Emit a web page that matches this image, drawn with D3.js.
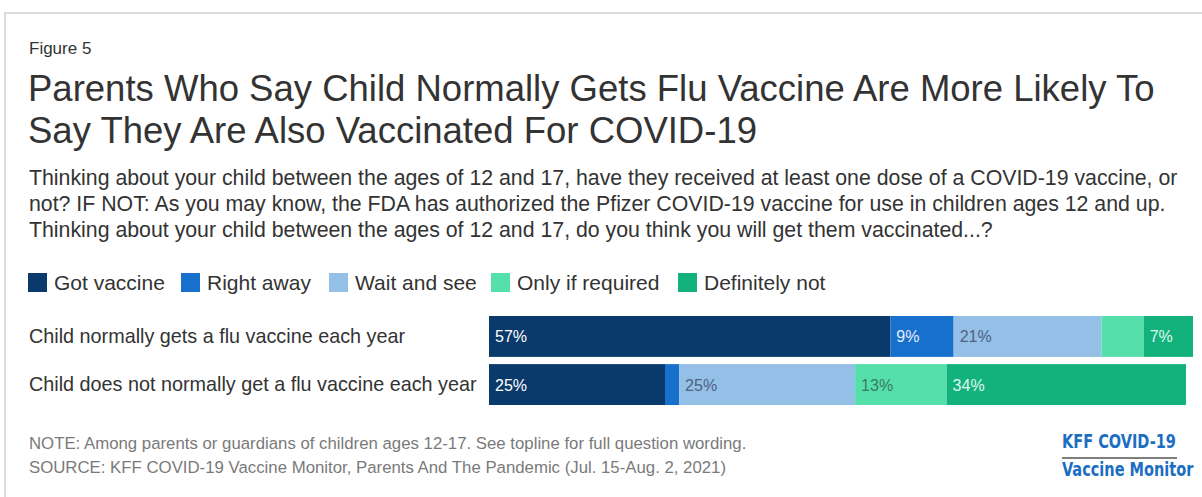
<!DOCTYPE html>
<html>
<head>
<meta charset="utf-8">
<script src="https://cdn.jsdelivr.net/npm/d3@7"></script>
<style>
  body { margin: 0; background: #fff; }
  svg { display: block; font-family: "Liberation Sans", Arial, sans-serif; }
</style>
</head>
<body>
<script>
// Data
const categories = [
  "Child normally gets a flu vaccine each year",
  "Child does not normally get a flu vaccine each year"
];
const responses = ["Got vaccine", "Right away", "Wait and see", "Only if required", "Definitely not"];
const gotVaccine = [57, 25];
const rightAway = [9, 2];
const waitAndSee = [21, 25];
const onlyIfRequired = [6, 13];
const definitelyNot = [7, 34];

const titleLines = [
  "Parents Who Say Child Normally Gets Flu Vaccine Are More Likely To",
  "Say They Are Also Vaccinated For COVID-19"
];
const subtitleLines = [
  "Thinking about your child between the ages of 12 and 17, have they received at least one dose of a COVID-19 vaccine, or",
  "not? IF NOT: As you may know, the FDA has authorized the Pfizer COVID-19 vaccine for use in children ages 12 and up.",
  "Thinking about your child between the ages of 12 and 17, do you think you will get them vaccinated...?"
];
const noteLines = [
  "NOTE: Among parents or guardians of children ages 12-17. See topline for full question wording.",
  "SOURCE: KFF COVID-19 Vaccine Monitor, Parents And The Pandemic (Jul. 15-Aug. 2, 2021)"
];

const colors = ["#0a3a6b", "#1670cc", "#94bfe6", "#55e0ab", "#13b27c"];
const labelColors = ["#ffffff", "#e6ecfa", "#4d6283", "#3b7a66", "#dff7ee"];

const width = 1202, height = 497;

const svg = d3.select("body").append("svg")
  .attr("width", width)
  .attr("height", height);

// card border
svg.append("rect")
  .attr("x", 5).attr("y", 13)
  .attr("width", width + 20).attr("height", height + 20)
  .attr("fill", "#fff")
  .attr("stroke", "#dcdcdc")
  .attr("stroke-width", 2);

// heading texts
svg.append("text")
  .attr("x", 29).attr("y", 54)
  .attr("font-size", 17).attr("fill", "#333")
  .text("Figure 5");

svg.selectAll(".title").data(titleLines).enter().append("text")
  .attr("class", "title")
  .attr("x", 28).attr("y", (d, i) => 101 + i * 42)
  .attr("font-size", 36.5).attr("fill", "#333")
  .text(d => d);

svg.selectAll(".subtitle").data(subtitleLines).enter().append("text")
  .attr("class", "subtitle")
  .attr("x", 29).attr("y", (d, i) => 185 + i * 26)
  .attr("font-size", 21.3).attr("fill", "#333")
  .text(d => d);

// stacked data
const series = [gotVaccine, rightAway, waitAndSee, onlyIfRequired, definitelyNot];
const rows = categories.map((c, i) => {
  const r = { category: c };
  responses.forEach((k, j) => { r[k] = series[j][i]; });
  return r;
});
const stacked = d3.stack().keys(responses)(rows);

const x = d3.scaleLinear().domain([0, 100]).range([489, 1193]);
const y = d3.scaleBand().domain(categories).range([316, 405]).paddingInner(0.15);
const color = d3.scaleOrdinal().domain(responses).range(colors);
const labelColor = d3.scaleOrdinal().domain(responses).range(labelColors);

// legend
const legendX = [28, 181, 329, 491, 678];
const legend = svg.selectAll(".legend").data(responses).enter().append("g")
  .attr("class", "legend")
  .attr("transform", (d, i) => `translate(${legendX[i]}, 273)`);
legend.append("rect")
  .attr("width", 19).attr("height", 19)
  .attr("fill", d => color(d));
legend.append("text")
  .attr("x", 26).attr("y", 17)
  .attr("font-size", 21).attr("fill", "#333")
  .text(d => d);

// row labels
svg.append("g")
  .attr("transform", "translate(29, 0)")
  .call(d3.axisLeft(y).tickSize(0).tickPadding(0))
  .call(g => g.select(".domain").remove())
  .call(g => g.selectAll("text")
    .attr("text-anchor", "start")
    .attr("font-family", "Liberation Sans, Arial, sans-serif")
    .attr("font-size", 19.8)
    .attr("fill", "#333"));

// bars
const layer = svg.selectAll(".layer").data(stacked).enter().append("g")
  .attr("class", "layer")
  .attr("fill", d => color(d.key));

layer.selectAll("rect").data(d => d).enter().append("rect")
  .attr("x", d => x(d[0]))
  .attr("y", d => y(d.data.category))
  .attr("width", d => x(d[1]) - x(d[0]))
  .attr("height", y.bandwidth());

layer.each(function(s) {
  d3.select(this).selectAll("text")
    .data(s.filter(d => d[1] - d[0] >= 7))
    .enter().append("text")
    .attr("x", d => x(d[0]) + 6)
    .attr("y", d => y(d.data.category) + y.bandwidth() / 2 + 6)
    .attr("font-size", 16)
    .attr("fill", labelColor(s.key))
    .text(d => (d[1] - d[0]) + "%");
});

// footer
svg.selectAll(".note").data(noteLines).enter().append("text")
  .attr("class", "note")
  .attr("x", 29).attr("y", (d, i) => 449 + i * 24)
  .attr("font-size", 16.8).attr("fill", "#7a7a7a")
  .text(d => d);

// logo
const logo = svg.append("g").attr("transform", "translate(1062, 0)");
logo.append("text")
  .attr("transform", "translate(0, 448) scale(0.85, 1)")
  .attr("font-family", "DejaVu Sans Condensed, DejaVu Sans, sans-serif")
  .attr("font-weight", "bold")
  .attr("font-size", 19).attr("fill", "#1b6ec2")
  .text("KFF COVID-19");
logo.append("line")
  .attr("x1", 0).attr("x2", 115)
  .attr("y1", 458).attr("y2", 458)
  .attr("stroke", "#555").attr("stroke-width", 1.5);
logo.append("text")
  .attr("transform", "translate(0, 476) scale(0.85, 1)")
  .attr("font-family", "DejaVu Sans Condensed, DejaVu Sans, sans-serif")
  .attr("font-weight", "bold")
  .attr("font-size", 19).attr("fill", "#1b6ec2")
  .text("Vaccine Monitor");
</script>
</body>
</html>
